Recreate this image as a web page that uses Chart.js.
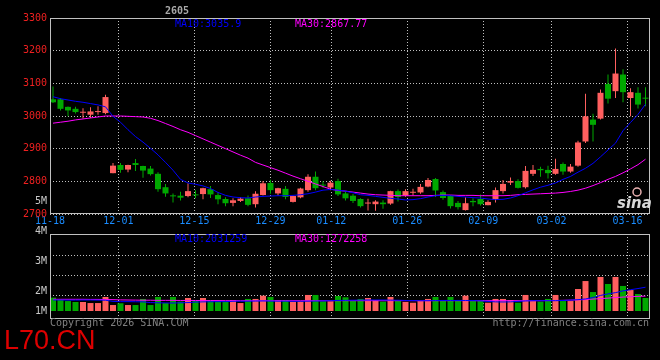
<!DOCTYPE html>
<html>
<head>
<meta charset="utf-8">
<script src="https://cdn.jsdelivr.net/npm/chart.js@4.4.1/dist/chart.umd.min.js"></script>
<style>
  html, body { margin: 0; padding: 0; background: #000; }
  #wrap { position: relative; width: 660px; height: 360px; }
  #wrap canvas { position: absolute; left: 0; top: 0; }
</style>
</head>
<body>
<div id="wrap">
  <canvas id="priceChart" width="660" height="360"></canvas>
  <canvas id="volumeChart" width="660" height="360"></canvas>
</div>
<script>
// daily bars of contract 2605, oldest first (80 sessions)
const opens = [
  3051, 3051, 3028, 3022, 3010, 3004, 3012, 3009, 2825, 2850,
  2836, 2856, 2847, 2839, 2823, 2782, 2756, 2756, 2755, 2759,
  2761, 2776, 2758, 2746, 2734, 2740, 2748, 2730, 2758, 2795,
  2763, 2777, 2737, 2751, 2773, 2814, 2790, 2781, 2801, 2763,
  2756, 2746, 2732, 2730, 2735, 2732, 2770, 2756, 2765, 2766,
  2784, 2807, 2767, 2756, 2734, 2712, 2740, 2746, 2727, 2743,
  2770, 2796, 2801, 2782, 2823, 2838, 2835, 2823, 2853, 2830,
  2848, 2922, 2989, 2992, 3098, 3076, 3127, 3055, 3071, 3055
];
const highs = [
  3090, 3055, 3029, 3028, 3024, 3027, 3030, 3065, 2856, 2856,
  2851, 2868, 2848, 2847, 2828, 2792, 2763, 2768, 2794, 2773,
  2780, 2786, 2766, 2751, 2748, 2751, 2757, 2770, 2801, 2805,
  2780, 2786, 2756, 2780, 2822, 2830, 2800, 2802, 2808, 2768,
  2761, 2748, 2747, 2742, 2742, 2771, 2775, 2776, 2777, 2792,
  2810, 2810, 2772, 2758, 2740, 2751, 2748, 2760, 2742, 2781,
  2804, 2812, 2806, 2847, 2850, 2845, 2848, 2869, 2858, 2853,
  2924, 3068, 3007, 3081, 3127, 3207, 3143, 3085, 3088, 3088
];
const lows = [
  3040, 3017, 2999, 3008, 2992, 2994, 3004, 3005, 2825, 2826,
  2828, 2832, 2811, 2818, 2768, 2753, 2735, 2741, 2751, 2748,
  2745, 2749, 2730, 2724, 2724, 2737, 2724, 2720, 2757, 2762,
  2757, 2745, 2735, 2748, 2768, 2773, 2780, 2773, 2755, 2741,
  2734, 2720, 2711, 2710, 2716, 2728, 2738, 2753, 2757, 2762,
  2782, 2752, 2744, 2717, 2714, 2711, 2724, 2726, 2727, 2735,
  2763, 2789, 2778, 2778, 2816, 2814, 2809, 2820, 2820, 2826,
  2845, 2917, 2922, 2989, 3038, 3055, 3042, 2999, 3023, 3030
];
const closes = [
  3042, 3022, 3017, 3012, 3012, 3014, 3015, 3058, 2848, 2835,
  2850, 2850, 2833, 2822, 2776, 2763, 2754, 2750, 2770, 2757,
  2779, 2760, 2745, 2733, 2742, 2747, 2728, 2762, 2794, 2773,
  2779, 2752, 2755, 2778, 2814, 2779, 2787, 2796, 2760, 2748,
  2740, 2724, 2734, 2738, 2730, 2770, 2752, 2770, 2767, 2783,
  2804, 2772, 2749, 2724, 2721, 2733, 2736, 2730, 2737, 2773,
  2792, 2801, 2780, 2832, 2835, 2834, 2825, 2838, 2830, 2845,
  2919, 2999, 2973, 3071, 3053, 3130, 3073, 3073, 3035, 3053
];
const ma10 = [
  3059, 3053, 3049, 3045, 3042, 3038, 3034, 3028, 2999, 2981,
  2958, 2937, 2920, 2901, 2881, 2858, 2834, 2806, 2795, 2791,
  2786, 2778, 2766, 2757, 2752, 2750, 2749, 2752, 2754, 2755,
  2756, 2756, 2757, 2759, 2762, 2767, 2773, 2775, 2773, 2770,
  2765, 2759, 2757, 2754, 2751, 2748, 2746, 2743, 2744, 2747,
  2752, 2756, 2757, 2756, 2754, 2752, 2750, 2749, 2746, 2744,
  2745, 2749, 2756, 2765, 2774, 2782, 2788, 2795, 2806, 2815,
  2828, 2840, 2855, 2875, 2896, 2917, 2955, 2980, 3005, 3035.9
];
const ma30 = [
  2978, 2981, 2984, 2988, 2991, 2994, 2997, 3000, 3000, 3000,
  2999, 2998, 2997, 2993, 2986, 2977, 2968, 2958, 2950, 2940,
  2930, 2920, 2910, 2900, 2890, 2880, 2871, 2858, 2850, 2842,
  2834, 2825, 2816, 2808, 2800, 2792, 2784, 2776, 2772, 2770,
  2767, 2764, 2761, 2759, 2758, 2757, 2756, 2756, 2756, 2756,
  2756, 2757, 2758, 2758, 2757, 2757, 2757, 2756, 2756, 2756,
  2756, 2757, 2759, 2760, 2761, 2762, 2763, 2764, 2766, 2769,
  2773, 2779, 2787, 2796, 2806, 2815, 2826, 2838, 2851, 2867.77
];
// volume in millions of lots
const volumes = [
  1.14, 1.00, 0.85, 0.77, 0.77, 0.68, 0.68, 1.20, 0.51, 0.66,
  0.51, 0.51, 1.03, 0.51, 1.20, 0.68, 1.20, 0.80, 1.11, 0.85,
  1.11, 0.88, 0.83, 0.83, 0.94, 0.68, 1.03, 1.03, 1.31, 1.20,
  0.94, 0.94, 0.80, 0.83, 1.37, 1.37, 0.83, 0.83, 1.28, 1.17,
  0.85, 1.03, 1.11, 0.94, 0.80, 1.20, 0.85, 0.77, 0.71, 0.85,
  1.03, 1.20, 0.85, 1.20, 0.85, 1.31, 0.85, 0.88, 0.71, 1.03,
  1.03, 0.94, 0.71, 1.37, 0.85, 0.80, 1.03, 1.37, 0.85, 0.85,
  1.88, 2.56, 1.62, 2.91, 2.31, 2.91, 2.14, 1.79, 1.45, 1.11
];
const volMa10 = [
  0.94, 0.94, 0.93, 0.93, 0.94, 0.94, 0.93, 0.92, 0.82, 0.80,
  0.80, 0.79, 0.78, 0.72, 0.70, 0.69, 0.68, 0.70, 0.72, 0.76,
  0.78, 0.79, 0.80, 0.80, 0.83, 0.84, 0.84, 0.85, 0.86, 0.85,
  0.84, 0.84, 0.83, 0.83, 0.84, 0.85, 0.86, 0.88, 0.90, 0.91,
  0.92, 0.93, 0.94, 0.94, 0.94, 0.93, 0.92, 0.90, 0.89, 0.88,
  0.88, 0.89, 0.90, 0.90, 0.90, 0.90, 0.89, 0.87, 0.82, 0.78,
  0.77, 0.78, 0.82, 0.86, 0.88, 0.88, 0.88, 0.88, 0.90, 0.93,
  0.97, 1.03, 1.15, 1.33, 1.46, 1.57, 1.72, 1.82, 1.92, 2.031259
];
const volMa30 = [
  1.00, 1.00, 1.00, 1.00, 1.00, 0.99, 0.99, 0.98, 0.97, 0.95,
  0.94, 0.93, 0.92, 0.92, 0.91, 0.91, 0.91, 0.90, 0.90, 0.90,
  0.89, 0.89, 0.89, 0.88, 0.88, 0.88, 0.88, 0.88, 0.88, 0.88,
  0.88, 0.88, 0.88, 0.88, 0.88, 0.88, 0.88, 0.88, 0.88, 0.88,
  0.88, 0.88, 0.88, 0.88, 0.88, 0.88, 0.88, 0.88, 0.88, 0.88,
  0.88, 0.88, 0.88, 0.88, 0.88, 0.88, 0.88, 0.88, 0.88, 0.88,
  0.88, 0.88, 0.88, 0.88, 0.88, 0.88, 0.89, 0.90, 0.91, 0.93,
  0.95, 0.98, 1.02, 1.06, 1.10, 1.15, 1.19, 1.22, 1.25, 1.272258
];

// date axis: trading-day number of each labelled date
const tickDays = [0, 9, 19, 29, 37, 47, 57, 66, 76];
const tickLabels = ['11-18', '12-01', '12-15', '12-29', '01-12', '01-26', '02-09', '03-02', '03-16'];
const volumeGrid = [1.31, 3.05, 4.76];
const volumeLabels = ['5M', '4M', '3M', '2M', '1M'];
const title = '2605';

const UP = '#ff5f5f';
const DOWN = '#00a800';
const GRID = '#c0c0c0';
const MONO = '"DejaVu Sans Mono", monospace';

const candleColors = closes.map((c, i) => c >= opens[i] ? UP : DOWN);
const xy = arr => arr.map((v, i) => ({ x: i, y: v }));

// hidden index axis for candles, shared by both panels
const candleAxis = { type: 'linear', min: -0.4, max: 79.6, offset: false, display: false };

function dateAxis(showLabels) {
    return {
        type: 'linear',
        position: 'bottom',
        min: 0,
        max: 78.95,
        offset: false,
        afterBuildTicks: s => { s.ticks = tickDays.map(v => ({ value: v })); },
        afterFit: s => { s.height = showLabels ? 20 : 0; },
        grid: { color: GRID, drawTicks: false, offset: false },
        border: { display: false, dash: [1, 2] },
        ticks: {
            display: showLabels,
            autoSkip: false,
            maxRotation: 0,
            padding: 1,
            color: '#1a8cff',
            font: { family: MONO, size: 10 },
            callback: v => tickLabels[tickDays.indexOf(v)]
        }
    };
}

const framePlugin = {
    id: 'frame',
    afterDraw(chart) {
        const { ctx, chartArea: a } = chart;
        ctx.save();
        ctx.strokeStyle = GRID;
        ctx.lineWidth = 1;
        ctx.strokeRect(a.left + 0.5, a.top + 0.5, a.right - a.left - 1, a.bottom - a.top - 1);
        ctx.restore();
    }
};

const priceText = {
    id: 'priceText',
    afterDraw(chart) {
        const ctx = chart.ctx;
        ctx.save();
        ctx.font = 'bold 10px ' + MONO;
        ctx.fillStyle = '#a8a8a8';
        ctx.textAlign = 'center';
        ctx.fillText(title, 177, 14);
        ctx.textAlign = 'left';
        ctx.font = '10px ' + MONO;
        ctx.fillStyle = '#0000ff';
        ctx.fillText('MA10:' + ma10[ma10.length - 1], 175, 27);
        ctx.fillStyle = '#ff00ff';
        ctx.fillText('MA30:' + ma30[ma30.length - 1], 295, 27);

        // sina logo
        ctx.strokeStyle = '#e8b0b0';
        ctx.lineWidth = 1.5;
        ctx.beginPath();
        ctx.arc(637, 192, 4, 0, Math.PI * 2);
        ctx.stroke();
        ctx.font = 'italic bold 15px "DejaVu Sans"';
        ctx.fillStyle = '#d8d8d8';
        ctx.fillText('sina', 617, 208);
        ctx.restore();
    }
};

const volumeText = {
    id: 'volumeText',
    afterDraw(chart) {
        const ctx = chart.ctx;
        ctx.save();
        ctx.font = '10px ' + MONO;
        ctx.fillStyle = '#c8c8c8';
        ctx.textAlign = 'right';
        [204, 234, 264, 294, 314].forEach((y, i) => ctx.fillText(volumeLabels[i], 47, y));

        ctx.textAlign = 'left';
        ctx.fillStyle = '#0000ff';
        ctx.fillText('MA10:' + Math.round(volMa10[volMa10.length - 1] * 1e6), 175, 242);
        ctx.fillStyle = '#ff00ff';
        ctx.fillText('MA30:' + Math.round(volMa30[volMa30.length - 1] * 1e6), 295, 242);

        ctx.fillStyle = '#808080';
        ctx.fillText('Copyright 2026 SINA.COM', 50, 326);
        ctx.textAlign = 'right';
        ctx.fillText('http://finance.sina.com.cn', 649, 326);

        ctx.textAlign = 'left';
        ctx.font = '27px "Liberation Sans"';
        ctx.fillStyle = '#dd0000';
        ctx.fillText('L70.CN', 4, 349);
        ctx.restore();
    }
};

const lineStyle = { type: 'line', borderWidth: 1, pointRadius: 0, tension: 0, xAxisID: 'x', yAxisID: 'y' };

new Chart(document.getElementById('priceChart'), {
    type: 'bar',
    data: {
        datasets: [
            { ...lineStyle, data: xy(ma10), borderColor: '#0000ff' },
            { ...lineStyle, data: xy(ma30), borderColor: '#ff00ff' },
            {
                data: closes.map((c, i) => ({ x: i, y: [opens[i], c] })),
                backgroundColor: candleColors,
                barThickness: 6, minBarLength: 1, grouped: false, inflateAmount: 0,
                xAxisID: 'x', yAxisID: 'y'
            },
            {
                data: closes.map((c, i) => ({ x: i, y: [lows[i], highs[i]] })),
                backgroundColor: candleColors,
                barThickness: 1, grouped: false, inflateAmount: 0,
                xAxisID: 'x', yAxisID: 'y'
            }
        ]
    },
    options: {
        responsive: false,
        animation: false,
        layout: { padding: { top: 18, right: 10, bottom: 126, left: 0 } },
        plugins: { legend: { display: false }, tooltip: { enabled: false } },
        scales: {
            x: candleAxis,
            xDate: dateAxis(true),
            y: {
                type: 'linear',
                position: 'left',
                min: 2700,
                max: 3300,
                afterFit: s => { s.width = 50; },
                grid: { color: GRID, drawTicks: false },
                border: { display: false, dash: [1, 2] },
                ticks: {
                    stepSize: 100, padding: 3, color: '#ee2020',
                    font: { family: MONO, size: 10 },
                    callback: v => String(v)
                }
            }
        }
    },
    plugins: [framePlugin, priceText]
});

new Chart(document.getElementById('volumeChart'), {
    type: 'bar',
    data: {
        datasets: [
            { ...lineStyle, data: xy(volMa10), borderColor: '#0000ff' },
            { ...lineStyle, data: xy(volMa30), borderColor: '#ff00ff' },
            {
                data: xy(volumes),
                backgroundColor: candleColors,
                barThickness: 6, grouped: false, inflateAmount: 0,
                xAxisID: 'x', yAxisID: 'y'
            }
        ]
    },
    options: {
        responsive: false,
        animation: false,
        layout: { padding: { top: 234, right: 10, bottom: 41, left: 0 } },
        plugins: { legend: { display: false }, tooltip: { enabled: false } },
        scales: {
            x: candleAxis,
            xDate: dateAxis(false),
            y: {
                type: 'linear',
                position: 'left',
                min: -0.684,
                max: 6.581,
                afterBuildTicks: s => { s.ticks = volumeGrid.map(v => ({ value: v })); },
                afterFit: s => { s.width = 50; },
                grid: { color: GRID, drawTicks: false },
                border: { display: false, dash: [1, 2] },
                ticks: { display: false }
            }
        }
    },
    plugins: [framePlugin, volumeText]
});
</script>
</body>
</html>
